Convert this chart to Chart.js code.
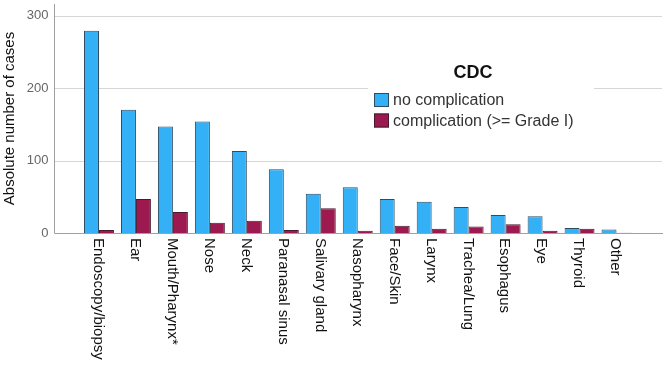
<!DOCTYPE html>
<html>
<head>
<meta charset="utf-8">
<script src="https://cdn.jsdelivr.net/npm/chart.js@4"></script>
<style>
  html, body { margin: 0; padding: 0; background: #fff; }
  #wrap { width: 669px; height: 371px; position: relative; }
</style>
</head>
<body>
<div id="wrap"><canvas id="chart"></canvas></div>
<script>
    var categories = ['Endoscopy/biopsy', 'Ear', 'Mouth/Pharynx*', 'Nose', 'Neck', 'Paranasal sinus',
        'Salivary gland', 'Nasopharynx', 'Face/Skin', 'Larynx', 'Trachea/Lung', 'Esophagus',
        'Eye', 'Thyroid', 'Other'];
    var no_complication = [279, 170, 147, 154, 113, 88, 54, 63, 47, 43, 36, 25, 23, 7, 5];
    var complication = [4, 47, 29, 14, 17, 4, 34, 3, 10, 6, 9, 12, 3, 6, 0.5];
    var y_ticks = [0, 100, 200, 300];

    var font_family = '"Liberation Sans", Arial, sans-serif';

    // grid, axis lines and the legend box are drawn by hand so they can run past the bar area
    var frame_plugin = {
        id: 'frame',
        beforeDatasetsDraw: function (chart) {
            var ctx = chart.ctx;
            var y = chart.scales.y;
            var left = 54, right = 662;
            ctx.save();
            ctx.lineWidth = 1;
            ctx.strokeStyle = '#d6d6d6';
            for (var i = 1; i < y_ticks.length; i++) {
                var py = Math.round(y.getPixelForValue(y_ticks[i])) + 0.5;
                ctx.beginPath();
                ctx.moveTo(left, py);
                ctx.lineTo(right, py);
                ctx.stroke();
            }
            var zero = Math.round(y.getPixelForValue(0)) + 0.5;
            ctx.strokeStyle = '#a0a0a0';
            ctx.beginPath();
            ctx.moveTo(left + 0.5, chart.chartArea.top);
            ctx.lineTo(left + 0.5, zero);
            ctx.lineTo(right + 1, zero);
            ctx.stroke();

            // legend
            ctx.fillStyle = '#ffffff';
            ctx.fillRect(368, 60, 226, 80);
            ctx.fillStyle = '#111';
            ctx.font = 'bold 18px ' + font_family;
            ctx.textAlign = 'center';
            ctx.textBaseline = 'middle';
            ctx.fillText('CDC', 473, 73);
            ctx.font = '16px ' + font_family;
            ctx.textAlign = 'left';
            var ds = chart.data.datasets;
            for (var k = 0; k < ds.length; k++) {
                var top = 93 + k * 20.5;
                ctx.fillStyle = ds[k].backgroundColor;
                ctx.fillRect(374, top, 15, 14);
                ctx.strokeStyle = ds[k].borderColor;
                ctx.strokeRect(374.5, top + 0.5, 14, 13);
                ctx.fillStyle = '#333';
                ctx.fillText(ds[k].label, 393, top + 8);
            }
            ctx.restore();
        },
        afterDraw: function (chart) {
            // category labels, rotated to read top to bottom
            var ctx = chart.ctx;
            var x = chart.scales.x;
            ctx.save();
            ctx.font = '15px ' + font_family;
            ctx.fillStyle = '#111';
            ctx.textAlign = 'left';
            ctx.textBaseline = 'middle';
            for (var i = 0; i < categories.length; i++) {
                ctx.save();
                ctx.translate(x.getPixelForTick(i) - 1, chart.chartArea.bottom + 5);
                ctx.rotate(Math.PI / 2);
                ctx.fillText(categories[i], 0, 0);
                ctx.restore();
            }
            ctx.restore();
        }
    };

    var cxt = document.getElementById('chart').getContext('2d');
    var chart = new Chart(cxt, {
        type: 'bar',
        data: {
            labels: categories,
            datasets: [{
                label: 'no complication',
                data: no_complication,
                backgroundColor: '#34b1f6',
                borderColor: '#2d4d63',
                borderWidth: 1,
                borderSkipped: 'bottom'
            }, {
                label: 'complication (>= Grade I)',
                data: complication,
                backgroundColor: '#9c1a4f',
                borderColor: '#4a1a2c',
                borderWidth: 1,
                borderSkipped: 'bottom'
            }]
        },
        options: {
            responsive: true,
            maintainAspectRatio: false,
            animation: false,
            layout: { padding: { top: 4, right: 34, left: 0, bottom: 0 } },
            datasets: { bar: { categoryPercentage: 0.81, barPercentage: 1 } },
            plugins: {
                legend: { display: false },
                tooltip: { enabled: false }
            },
            scales: {
                x: {
                    grid: { display: false, drawTicks: false },
                    border: { display: false },
                    ticks: { display: false },
                    afterFit: function (scale) { scale.height = 138; }
                },
                y: {
                    min: 0,
                    max: 316,
                    grid: { display: false, drawTicks: false },
                    border: { display: false },
                    ticks: {
                        stepSize: 100,
                        includeBounds: false,
                        padding: 32,
                        color: '#666',
                        font: { family: font_family, size: 13 }
                    },
                    title: {
                        display: true,
                        text: 'Absolute number of cases',
                        color: '#111',
                        padding: { top: 1, bottom: 0 },
                        font: { family: font_family, size: 15 }
                    },
                    afterFit: function (scale) {
                        scale.width = 80.5;
                        scale.paddingTop = 0;
                        scale.paddingBottom = 0;
                    }
                }
            }
        },
        plugins: [frame_plugin]
    });
</script>
</body>
</html>
